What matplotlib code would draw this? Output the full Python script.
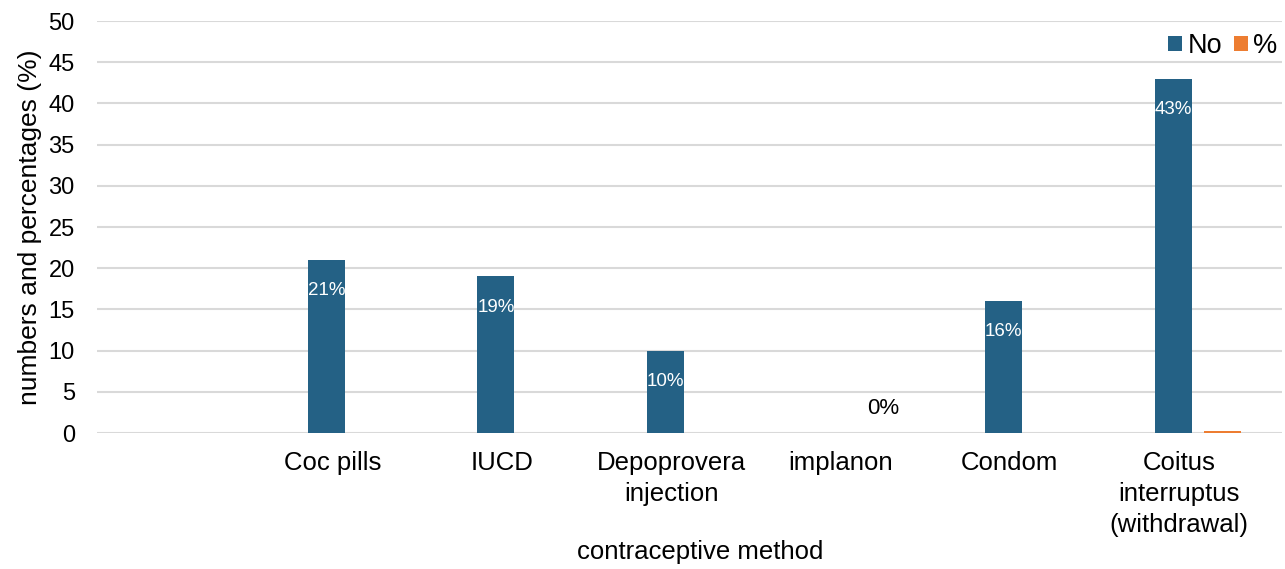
import matplotlib
matplotlib.use("Agg")
import matplotlib.pyplot as plt
import numpy as np

categories = ["", "Coc pills", "IUCD", "Depoprovera\ninjection", "implanon", "Condom",
              "Coitus\ninterruptus\n(withdrawal)"]
no_values = [0, 21, 19, 10, 0, 16, 43]
pct_values = [0, 0, 0, 0, 0, 0, 0.3]
bar_labels = ["", "21%", "19%", "10%", "0%", "16%", "43%"]
yticks = [0, 5, 10, 15, 20, 25, 30, 35, 40, 45, 50]

plt.rcParams['font.family'] = ['Liberation Sans', 'DejaVu Sans']

fig = plt.figure(figsize=(12.85, 5.69), dpi=100)
ax = fig.add_axes([0.0755, 0.239, 0.9225, 0.724])

x = np.arange(len(categories))
w = 0.22
off = 0.145
blue = "#246185"
orange = "#ED7D31"
ax.bar(x - off, no_values, w, color=blue, label="No", zorder=3)
ax.bar(x + off, pct_values, w, color=orange, label="%", zorder=3)

for xi, v, lab in zip(x, no_values, bar_labels):
    if not lab:
        continue
    if v > 0:
        ax.annotate(lab, (xi - off, v), xytext=(0, -22), textcoords="offset points",
                    ha="center", va="center", color="white", fontsize=13.5, zorder=4)
    else:
        ax.annotate(lab, (xi + off, 0), xytext=(0, 18), textcoords="offset points",
                    ha="center", va="center", color="black", fontsize=16, zorder=4)

ax.set_xlim(-0.5, len(categories) - 0.5)
ax.set_ylim(0, 50)
ax.set_yticks(yticks)
ax.set_xticks(x - 0.11)
ax.set_xticklabels(categories, fontsize=18.5, linespacing=1.36)
ax.tick_params(axis="y", labelsize=17, length=0, pad=16)
ax.tick_params(axis="x", length=0, pad=13)
ax.yaxis.grid(True, color="#d9d9d9", linewidth=1.5, zorder=0)
ax.set_axisbelow(True)
for s in ax.spines.values():
    s.set_visible(False)

ax.set_ylabel("numbers and percentages (%)", fontsize=19, labelpad=5)
fig.text(700 / 1285, 1 - 552 / 569, "contraceptive method", fontsize=18.5,
         ha="center", va="center")

ax.legend(loc="upper right", bbox_to_anchor=(1.006, 1.0), ncol=2, frameon=False,
          fontsize=19.5, handlelength=0.5, handleheight=0.5, handletextpad=0.2,
          columnspacing=0.45, borderaxespad=0.05)

fig.savefig("out.png", dpi=100)
